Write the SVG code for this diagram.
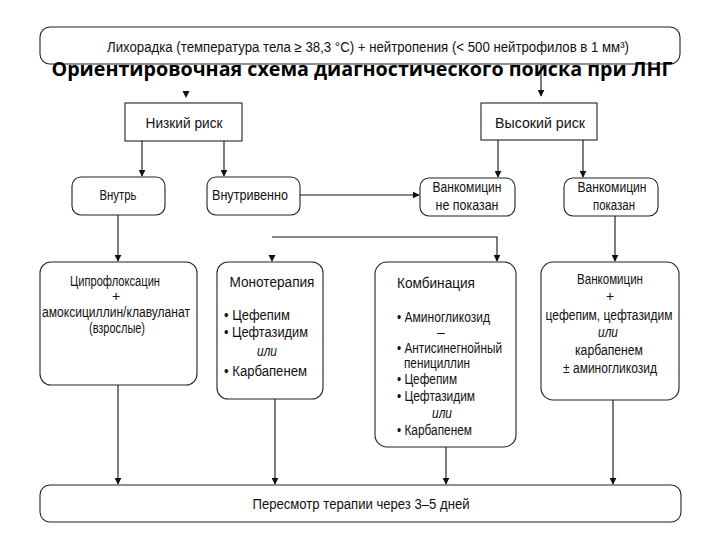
<svg xmlns="http://www.w3.org/2000/svg" width="720" height="540" viewBox="0 0 720 540">
<defs>
<style>
.box{fill:#fff;stroke:#222;stroke-width:1.1}
.t{font-family:"Liberation Sans",Arial,sans-serif;font-size:14px;fill:#111}
.c{text-anchor:middle}
.i{font-style:italic}
.ttl{font-family:"Open Sans","Noto Sans","Liberation Sans",sans-serif;font-weight:bold;font-size:20px;fill:#000}
.ln{fill:none;stroke:#111;stroke-width:1.1}
</style>
<marker id="ah" viewBox="0 0 10 10" refX="9" refY="5" markerWidth="7" markerHeight="7" orient="auto" markerUnits="userSpaceOnUse">
<path d="M0,0 L10,5 L0,10 z" fill="#111"/>
</marker>
</defs>
<rect width="720" height="540" fill="#fff"/>

<g id="connectors">
<path class="ln" d="M541,64 V96" marker-end="url(#ah)"/>
<path d="M182.5,91 L189.5,91 L186,98 z" fill="#111"/>
<path class="ln" d="M142,141 V176" marker-end="url(#ah)"/>
<path class="ln" d="M224,141 V176" marker-end="url(#ah)"/>
<path class="ln" d="M498,140 V177" marker-end="url(#ah)"/>
<path class="ln" d="M583,140 V177" marker-end="url(#ah)"/>
<path class="ln" d="M300,195 H419" marker-end="url(#ah)"/>
<path class="ln" d="M118,215 V261" marker-end="url(#ah)"/>
<path class="ln" d="M615,216 V261" marker-end="url(#ah)"/>
<path class="ln" d="M272,237 H497 V261" marker-end="url(#ah)"/>
<path d="M268.5,255 L275.5,255 L272,262 z" fill="#111"/>
<path class="ln" d="M118,385 V484" marker-end="url(#ah)"/>
<path class="ln" d="M275,399 V484" marker-end="url(#ah)"/>
<path class="ln" d="M446,447 V484" marker-end="url(#ah)"/>
<path class="ln" d="M613,400 V484" marker-end="url(#ah)"/>
</g>

<g id="top">
<rect class="box" x="40" y="27" width="640" height="37" rx="10"/>
<text class="t c" x="368" y="52" font-size="15" textLength="522" lengthAdjust="spacingAndGlyphs">Лихорадка (температура тела ≥ 38,3 °C) + нейтропения (&lt; 500 нейтрофилов в 1 мм³)</text>
</g>

<g id="title">
<text class="ttl" x="362" y="76" text-anchor="middle" textLength="621" lengthAdjust="spacingAndGlyphs">Ориентировочная схема диагностического поиска при ЛНГ</text>
</g>

<g id="low">
<rect class="box" x="125" y="103" width="117" height="38"/>
<text class="t c" x="184" y="128" font-size="15" textLength="77" lengthAdjust="spacingAndGlyphs">Низкий риск</text>
</g>
<g id="high">
<rect class="box" x="481" y="103" width="116" height="37"/>
<text class="t c" x="540" y="128" font-size="15" textLength="90" lengthAdjust="spacingAndGlyphs">Высокий риск</text>
</g>

<g id="oral">
<rect class="box" x="72" y="177" width="93" height="38" rx="9"/>
<text class="t c" x="118" y="200" textLength="37" lengthAdjust="spacingAndGlyphs">Внутрь</text>
</g>
<g id="iv">
<rect class="box" x="207" y="177" width="93" height="38" rx="9"/>
<text class="t c" x="250" y="200" textLength="76" lengthAdjust="spacingAndGlyphs">Внутривенно</text>
</g>
<g id="vanc-no">
<rect class="box" x="420" y="178" width="95" height="38" rx="9"/>
<text class="t c" x="467" y="192" textLength="69" lengthAdjust="spacingAndGlyphs">Ванкомицин</text>
<text class="t c" x="467" y="210" textLength="63" lengthAdjust="spacingAndGlyphs">не показан</text>
</g>
<g id="vanc-yes">
<rect class="box" x="564" y="178" width="94" height="38" rx="9"/>
<text class="t c" x="612" y="192" textLength="69" lengthAdjust="spacingAndGlyphs">Ванкомицин</text>
<text class="t c" x="614" y="210" textLength="42" lengthAdjust="spacingAndGlyphs">показан</text>
</g>

<g id="cipro">
<rect class="box" x="40" y="262" width="157" height="123" rx="11"/>
<text class="t c" x="115" y="286" textLength="90" lengthAdjust="spacingAndGlyphs">Ципрофлоксацин</text>
<text class="t c" x="116" y="301">+</text>
<text class="t c" x="116" y="317" textLength="148" lengthAdjust="spacingAndGlyphs">амоксициллин/клавуланат</text>
<text class="t c" x="117" y="333" textLength="56" lengthAdjust="spacingAndGlyphs">(взрослые)</text>
</g>

<g id="mono">
<rect class="box" x="217" y="262" width="106" height="137" rx="11"/>
<text class="t c" x="272" y="287" font-size="15" textLength="85" lengthAdjust="spacingAndGlyphs">Монотерапия</text>
<text class="t" x="224" y="320" textLength="66" lengthAdjust="spacingAndGlyphs">• Цефепим</text>
<text class="t" x="224" y="337" textLength="84" lengthAdjust="spacingAndGlyphs">• Цефтазидим</text>
<text class="t i" x="257" y="356" textLength="20" lengthAdjust="spacingAndGlyphs">или</text>
<text class="t" x="224" y="376" textLength="83" lengthAdjust="spacingAndGlyphs">• Карбапенем</text>
</g>

<g id="combo">
<rect class="box" x="375" y="262" width="141" height="185" rx="12"/>
<text class="t c" x="436" y="288" font-size="15" textLength="78" lengthAdjust="spacingAndGlyphs">Комбинация</text>
<text class="t" x="397" y="322" textLength="93" lengthAdjust="spacingAndGlyphs">• Аминогликозид</text>
<text class="t" x="437" y="337" font-size="12">–</text>
<text class="t" x="397" y="353" textLength="105" lengthAdjust="spacingAndGlyphs">• Антисинегнойный</text>
<text class="t" x="404" y="368" textLength="66" lengthAdjust="spacingAndGlyphs">пенициллин</text>
<text class="t" x="397" y="384" textLength="60" lengthAdjust="spacingAndGlyphs">• Цефепим</text>
<text class="t" x="397" y="401" textLength="78" lengthAdjust="spacingAndGlyphs">• Цефтазидим</text>
<text class="t i" x="432" y="418" textLength="20" lengthAdjust="spacingAndGlyphs">или</text>
<text class="t" x="397" y="435" textLength="75" lengthAdjust="spacingAndGlyphs">• Карбапенем</text>
</g>

<g id="vanc-combo">
<rect class="box" x="541" y="262" width="138" height="138" rx="12"/>
<text class="t c" x="610" y="284" textLength="66" lengthAdjust="spacingAndGlyphs">Ванкомицин</text>
<text class="t c" x="610" y="301">+</text>
<text class="t c" x="609" y="320" textLength="127" lengthAdjust="spacingAndGlyphs">цефепим, цефтазидим</text>
<text class="t c i" x="608" y="337" textLength="20" lengthAdjust="spacingAndGlyphs">или</text>
<text class="t c" x="609" y="355" textLength="68" lengthAdjust="spacingAndGlyphs">карбапенем</text>
<text class="t c" x="610" y="373" textLength="94" lengthAdjust="spacingAndGlyphs">± аминогликозид</text>
</g>

<g id="review">
<rect class="box" x="40" y="485" width="641" height="37" rx="10"/>
<text class="t c" x="361" y="509" font-size="15" textLength="217" lengthAdjust="spacingAndGlyphs">Пересмотр терапии через 3–5 дней</text>
</g>
</svg>
